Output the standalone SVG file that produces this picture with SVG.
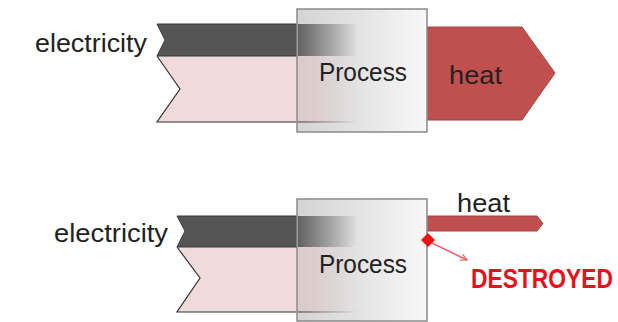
<svg xmlns="http://www.w3.org/2000/svg" width="618" height="322" viewBox="0 0 618 322">
<style>
.lbl{font-family:"Liberation Sans",Arial,sans-serif;fill:#222;font-size:26px}
.dark{fill:#555555;stroke:#3a3a3a;stroke-width:1}
.pink{fill:#f0dada;stroke:none}
.edge{fill:none;stroke:#333;stroke-width:1.2}
.box{fill:url(#boxg);stroke:#8a8a8a;stroke-width:1.5}
.heat{fill:#c0504d;stroke:#a84340;stroke-width:1}
.destroyed{font-family:"Liberation Sans",Arial,sans-serif;font-weight:bold;fill:#e8101a;font-size:23px}
</style>
<defs>
<linearGradient id="boxg" x1="0" y1="0" x2="1" y2="0">
<stop offset="0" stop-color="#d4d4d4"/>
<stop offset="0.5" stop-color="#e4e4e4"/>
<stop offset="1" stop-color="#f8f8f8"/>
</linearGradient>
<linearGradient id="fadeDark" x1="0" y1="0" x2="1" y2="0">
<stop offset="0" stop-color="#555" stop-opacity="0.9"/>
<stop offset="1" stop-color="#555" stop-opacity="0"/>
</linearGradient>
<linearGradient id="fadePink" x1="0" y1="0" x2="1" y2="0">
<stop offset="0" stop-color="#e0c4c4" stop-opacity="0.7"/>
<stop offset="1" stop-color="#e0c4c4" stop-opacity="0"/>
</linearGradient>
<linearGradient id="fadeLine" x1="0" y1="0" x2="1" y2="0">
<stop offset="0" stop-color="#333" stop-opacity="0.8"/>
<stop offset="1" stop-color="#333" stop-opacity="0"/>
</linearGradient>
<marker id="arr" viewBox="0 0 10 10" refX="9" refY="5" markerWidth="8" markerHeight="8" orient="auto" markerUnits="userSpaceOnUse">
<path d="M1,1 L9,5 L1,9" fill="none" stroke="#e8606a" stroke-width="1.5"/>
</marker>
</defs>

<!-- TOP DIAGRAM -->
<g id="electricity-top">
<polygon class="pink" points="157,56 297,56 297,122 157,122 180,89"/>
<polyline class="edge" points="157,56 180,89 157,122 297,122"/>
<polygon class="dark" points="157,24 297,24 297,56 157,56 165,40"/>
<text class="lbl" x="35" y="52" textLength="112" lengthAdjust="spacingAndGlyphs">electricity</text>
</g>
<g id="heat-top">
<polygon class="heat" points="420,27 522,27 555,73 522,120 420,120"/>
<text class="lbl" x="449" y="84" textLength="53" lengthAdjust="spacingAndGlyphs">heat</text>
</g>
<g id="process-top">
<rect class="box" x="297" y="9" width="130" height="123"/>
<rect x="298" y="24" width="60" height="32" fill="url(#fadeDark)"/>
<rect x="298" y="56" width="60" height="66" fill="url(#fadePink)"/>
<rect x="298" y="121.4" width="60" height="1.2" fill="url(#fadeLine)"/>
<text class="lbl" x="319" y="81" textLength="88" lengthAdjust="spacingAndGlyphs">Process</text>
</g>

<!-- BOTTOM DIAGRAM -->
<g id="electricity-bottom">
<polygon class="pink" points="177,247 297,247 297,312 177,312 200,278"/>
<polyline class="edge" points="177,247 200,278 177,312 297,312"/>
<polygon class="dark" points="177,216 297,216 297,247 177,247 185,231"/>
<text class="lbl" x="54" y="242" textLength="114" lengthAdjust="spacingAndGlyphs">electricity</text>
</g>
<g id="heat-bottom">
<polygon class="heat" points="420,216 537,216 543,223.5 537,231 420,231"/>
<text class="lbl" x="457" y="212" textLength="53" lengthAdjust="spacingAndGlyphs">heat</text>
</g>
<g id="process-bottom">
<rect class="box" x="297" y="199" width="130" height="122"/>
<rect x="298" y="216" width="60" height="31" fill="url(#fadeDark)"/>
<rect x="298" y="247" width="60" height="65" fill="url(#fadePink)"/>
<rect x="298" y="311.4" width="60" height="1.2" fill="url(#fadeLine)"/>
<text class="lbl" x="319" y="273" textLength="88" lengthAdjust="spacingAndGlyphs">Process</text>
</g>
<g id="destroyed">
<text class="destroyed" transform="translate(471,288) scale(1,1.2)" x="0" y="0" textLength="142" lengthAdjust="spacingAndGlyphs">DESTROYED</text>
</g>

<g id="connectors">
<line x1="430" y1="242" x2="467" y2="260" stroke="#e8606a" stroke-width="1.5" marker-end="url(#arr)"/>
<polygon points="428,233 435,240 428,247 421,240" fill="#ee1111"/>
</g>
</svg>
